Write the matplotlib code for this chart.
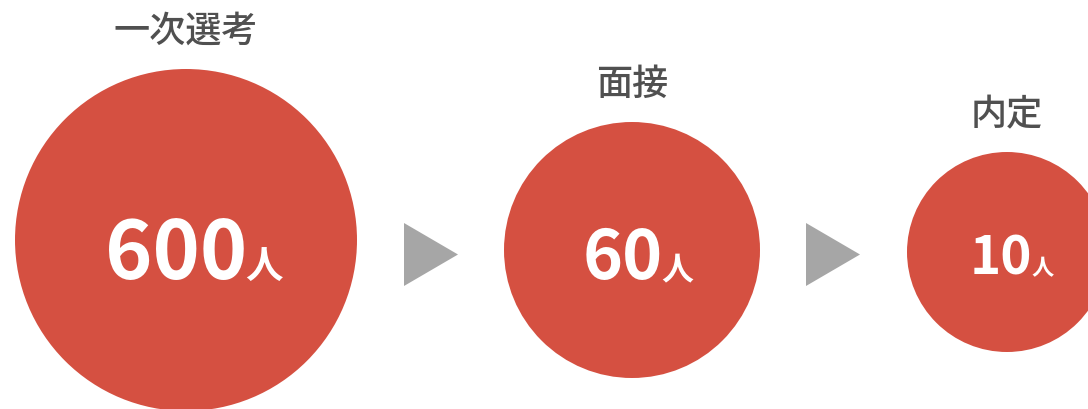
import matplotlib
matplotlib.use("Agg")
import matplotlib.pyplot as plt
from matplotlib.patches import Circle, Polygon

plt.rcParams['font.family'] = ['Noto Sans CJK JP', 'DejaVu Sans']

# data
stages = ["一次選考", "面接", "内定"]
counts = [600, 60, 10]
unit = "人"

# layout (pixels, figure is 1088x410)
centers_x = [186, 632, 1007]
centers_y = [241, 251, 253]
radii = [171, 128, 100]
num_sizes = [58, 49, 38]
unit_sizes = [27, 23, 16]
arrow_x = [404, 806]

red = "#d55041"
grey = "#a6a6a6"
label_col = "#505050"

fig = plt.figure(figsize=(10.88, 4.10), dpi=100)
ax = fig.add_axes([0, 0, 1, 1])
ax.set_xlim(0, 1088)
ax.set_ylim(410, 0)
ax.set_aspect("equal")
ax.axis("off")

for i in range(len(stages)):
    cx, cy, r = centers_x[i], centers_y[i], radii[i]
    ax.add_patch(Circle((cx, cy), r, color=red, lw=0))
    ax.text(cx, cy - r - 38, stages[i], ha="center", va="center",
            fontsize=26, color=label_col, fontweight="medium")
    base = cy + 0.22 * r
    t1 = ax.text(0, base, str(counts[i]), ha="left", va="baseline",
                 fontsize=num_sizes[i], color="white", fontweight="bold")
    t2 = ax.text(0, base, unit, ha="left", va="baseline",
                 fontsize=unit_sizes[i], color="white", fontweight="bold")
    fig.canvas.draw()
    w1 = t1.get_window_extent().width
    w2 = t2.get_window_extent().width
    gap = -0.01 * r
    total = w1 + gap + w2
    x0 = cx + 8 * r / 171 - total / 2
    t1.set_x(x0)
    t2.set_x(x0 + w1 + gap)

for ax0 in arrow_x:
    ax.add_patch(Polygon([[ax0, 224], [ax0, 287], [ax0 + 54, 255.5]],
                         closed=True, color=grey, lw=0))

fig.savefig("out.png", dpi=100)
